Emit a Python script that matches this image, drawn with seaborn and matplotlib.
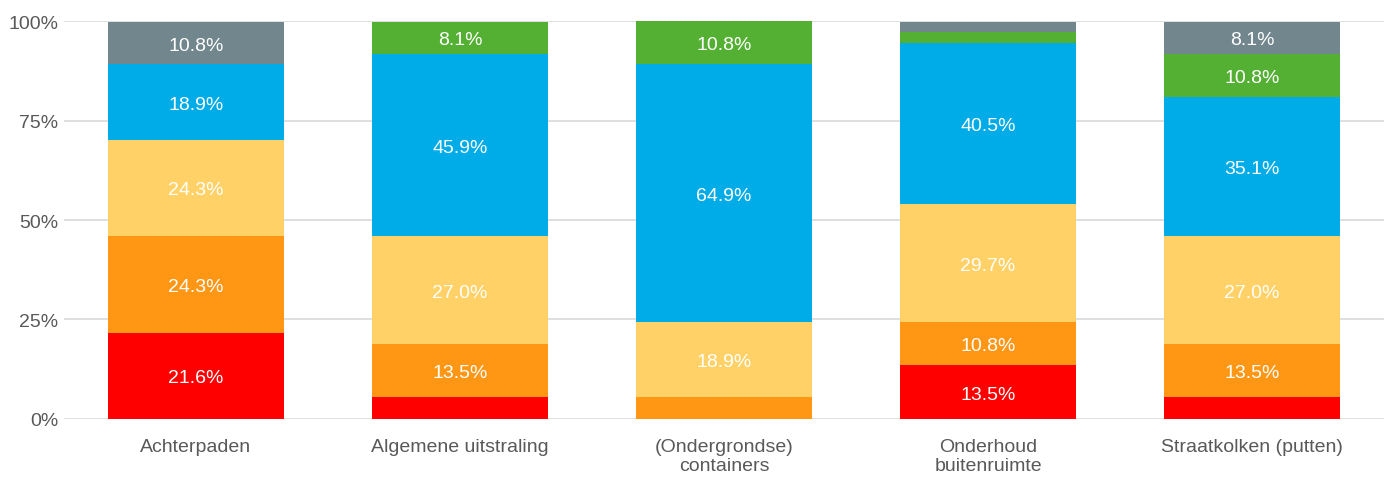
import numpy as np
import pandas as pd
import seaborn as sns
import matplotlib.pyplot as plt

# Data (percentages per category)
categories = ["Achterpaden", "Algemene uitstraling", "(Ondergrondse)\ncontainers",
              "Onderhoud\nbuitenruimte", "Straatkolken (putten)"]
red = [21.6, 5.4, 0.0, 13.5, 5.4]
orange = [24.3, 13.5, 5.4, 10.8, 13.5]
yellow = [24.3, 27.0, 18.9, 29.7, 27.0]
blue = [18.9, 45.9, 64.9, 40.5, 35.1]
green = [0.0, 8.1, 10.8, 2.7, 10.8]
gray = [10.8, 0.0, 0.0, 2.7, 8.1]

series = [red, orange, yellow, blue, green, gray]
colors = ["#FF0000", "#FF9614", "#FFD166", "#00ACE8", "#54B033", "#72868D"]

sns.set_style("white")
plt.rcParams['font.family'] = ['Liberation Sans', 'DejaVu Sans']

fig, ax = plt.subplots(figsize=(13.91, 4.81), dpi=100)
fig.subplots_adjust(left=0.046, right=0.995, top=0.954, bottom=0.127)

bottom = np.zeros(len(categories))
for vals, col in zip(series, colors):
    vals = np.array(vals)
    df = pd.DataFrame({"cat": categories, "val": vals})
    sns.barplot(data=df, x="cat", y="val", color=col, bottom=bottom,
                width=0.67, ax=ax, saturation=1, zorder=3, errorbar=None,
                linewidth=0, edgecolor="none")
    for i, v in enumerate(vals):
        if v >= 8:
            ax.text(i, bottom[i] + v / 2, f"{v:.1f}%", ha="center",
                    va="center_baseline", color="white", fontsize=14, zorder=4)
    bottom += vals

ax.set_ylim(0, 100)
ax.set_xlim(-0.5, 4.5)
ax.set_yticks([0, 25, 50, 75, 100])
ax.set_yticklabels(["0%", "25%", "50%", "75%", "100%"])
ax.yaxis.grid(True, color="#D9D9D9", linewidth=1.2, zorder=0)
ax.set_axisbelow(True)
ax.set_xlabel("")
ax.set_ylabel("")
for s in ax.spines.values():
    s.set_visible(False)
ax.tick_params(axis="both", length=0, labelsize=14, labelcolor="#595959")
ax.tick_params(axis="y", pad=4)
ax.tick_params(axis="x", pad=14)
for lbl in ax.get_xticklabels():
    lbl.set_linespacing(1.15)

plt.savefig("out.png", dpi=100)
